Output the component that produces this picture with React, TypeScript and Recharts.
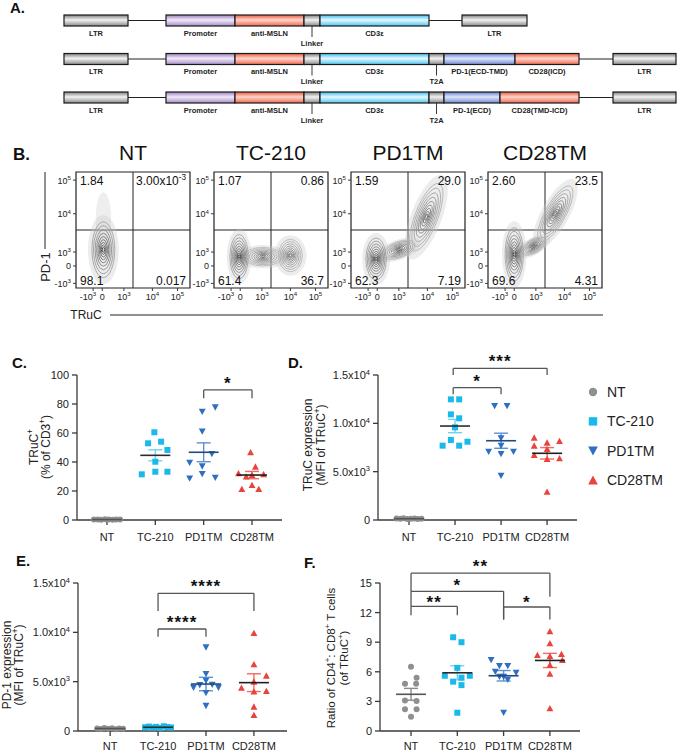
import React from 'react';
import {
  BarChart,
  Bar,
  XAxis,
  YAxis,
  ScatterChart,
  Scatter,
  ErrorBar,
  ReferenceLine,
  ReferenceDot,
  ReferenceArea,
} from 'recharts';

const FONT = '"Liberation Sans", Arial, Helvetica, sans-serif';
const INK = '#222';
const AXIS = '#3a3a3a';
const BRK = '#555';

// ---------- A. vector maps (segment lengths along the construct) ----------
const SEG_KEYS = ['lead', 'ltrL', 'gapL', 'promoter', 'anti', 'linker', 'cd3e', 't2a', 'pd1', 'cd28', 'gapR', 'ltrR'];
const mapNames = ['TC-210', 'PD1TM', 'CD28TM'];
const mapTC210 = [64, 64, 38, 69, 69, 16, 109, 0, 0, 0, 33, 65];
const mapPD1TM = [64, 64, 38, 69, 69, 16, 109, 15, 71, 64, 34, 63];
const mapCD28TM = [64, 64, 38, 69, 69, 16, 109, 15, 56, 79, 34, 63];
const baseLabels = { ltrL: 'LTR', promoter: 'Promoter', anti: 'anti-MSLN', linker: 'Linker', cd3e: 'CD3ε', ltrR: 'LTR' };
const mapLabels = [
  baseLabels,
  { ...baseLabels, t2a: 'T2A', pd1: 'PD-1(ECD-TMD)', cd28: 'CD28(ICD)' },
  { ...baseLabels, t2a: 'T2A', pd1: 'PD-1(ECD)', cd28: 'CD28(TMD-ICD)' },
];

// ---------- B. flow plots ----------
const flowTitles = ['NT', 'TC-210', 'PD1TM', 'CD28TM'];
const flowQuadrants = [
  ['1.84', '3.00x10^{-3}', '98.1', '0.017'],
  ['1.07', '0.86', '61.4', '36.7'],
  ['1.59', '29.0', '62.3', '7.19'],
  ['2.60', '23.5', '69.6', '4.31'],
];
const flowXTicks = [15, 23, 42, 67, 89];
const flowYTicks = [4, 19, 31, 64, 93];
const flowTickLabels = ['-10^{3}', '0', '10^{3}', '10^{4}', '10^{5}'];
const flowGate = { x: 50, y: 50 };
// populations: centre and spread in axis units, tilt in degrees
const popsNT = [
  { x: 24, y: 60, rx: 5, ry: 18, rot: 0, tone: 0 },
  { x: 24, y: 33, rx: 10, ry: 24, rot: 0, tone: 2 },
];
const popsTC210 = [
  { x: 43, y: 27, rx: 17, ry: 8, rot: 0, tone: 1 },
  { x: 22, y: 27, rx: 8, ry: 19, rot: 0, tone: 2 },
  { x: 67, y: 28, rx: 10.5, ry: 14, rot: 0, tone: 1 },
];
const popsPD1TM = [
  { x: 66, y: 61, rx: 10, ry: 31, rot: 21, tone: 1 },
  { x: 42, y: 33, rx: 15, ry: 7, rot: -20, tone: 1 },
  { x: 22, y: 25, rx: 9, ry: 18, rot: 0, tone: 2 },
];
const popsCD28TM = [
  { x: 59, y: 64, rx: 9, ry: 27, rot: 29, tone: 1 },
  { x: 40, y: 36, rx: 12, ry: 6, rot: -30, tone: 1 },
  { x: 23, y: 29, rx: 8, ry: 23, rot: 0, tone: 2 },
];
const flowPops = [popsNT, popsTC210, popsPD1TM, popsCD28TM];

// ---------- C-F. dot plots ([jitter, value]) ----------
const CATS = ['NT', 'TC-210', 'PD1TM', 'CD28TM'];
const COLORS = ['#8f8f8f', '#19b9ec', '#2d6fc0', '#e9433d'];
const ERR_COLORS = ['#8a8a8a', '#72d0f1', '#5f90d2', '#ef6b64'];
const MEAN_COLORS = ['#555', '#2b2b2b', '#24497e', '#1f1f1f'];
const MARKERS = ['circle', 'square', 'down', 'up'];

const cNT = [[-0.27, 0.3], [-0.19, 0.4], [-0.12, 0.2], [-0.04, 0.5], [0.04, 0.3], [0.12, 0.2], [0.19, 0.4], [0.27, 0.3]];
const cTC210 = [[-0.02, 60.5], [-0.15, 52.9], [0.12, 54], [0.25, 48.3], [0, 40.2], [-0.28, 31.5], [0, 33.3], [0.25, 33.3]];
const cPD1TM = [[-0.03, 74.7], [0.24, 77.7], [-0.03, 61], [0.17, 45.5], [-0.29, 39.5], [-0.03, 37], [-0.29, 28.7], [-0.03, 31.7], [0.24, 29.2]];
const cCD28TM = [[-0.03, 46.7], [0.07, 36.8], [-0.28, 32.2], [0.24, 31.5], [0, 31], [-0.12, 30], [0, 24.1], [-0.21, 21.4], [0.14, 21.4]];
const cMean = [0.3, 44.6, 46.7, 31.0];
const cSem = [0.1, 3.8, 6.5, 2.5];
const cBrackets = [{ a: 3, b: 4, top: 89.7, la: 84, lb: 84, label: '*', ly: 96.5 }];

const dNT = [[-0.27, 150], [-0.19, 120], [-0.12, 180], [-0.04, 100], [0.04, 140], [0.12, 160], [0.19, 110], [0.27, 130]];
const dTC210 = [[-0.09, 12480], [0.09, 12480], [-0.09, 10930], [0.09, 10520], [0, 9590], [-0.09, 8280], [-0.27, 7690], [0.09, 7690], [0.27, 8100]];
const dPD1TM = [[-0.14, 11790], [0.13, 11790], [0, 8450], [0, 7690], [-0.27, 7070], [0, 6830], [0.27, 7070], [0, 4590]];
const dCD28TM = [[-0.28, 8520], [0, 8000], [0.27, 8170], [-0.28, 7690], [0, 7340], [-0.28, 6720], [0, 6310], [0.27, 6380], [0, 2930]];
const dMean = [130, 9720, 8200, 6900];
const dSem = [15, 690, 780, 590];
const dBrackets = [
  { a: 1.96, b: 3, top: 13690, la: 13000, lb: 13000, label: '*', ly: 14655 },
  { a: 1.96, b: 4, top: 15690, la: 15000, lb: 15000, label: '***', ly: 16724 },
];

const eNT = [[-0.27, 250], [-0.19, 200], [-0.12, 300], [-0.04, 220], [0.04, 280], [0.12, 180], [0.19, 260], [0.27, 230]];
const eTC210 = [[-0.27, 380], [-0.19, 450], [-0.12, 350], [-0.04, 420], [0.04, 300], [0.12, 480], [0.19, 400], [0.27, 360]];
const ePD1TM = [[0, 8480], [0, 5780], [-0.26, 4400], [0, 5100], [0.26, 4400], [-0.13, 4650], [0.13, 4700], [0, 3850], [0, 2550]];
const eCD28TM = [[0, 9930], [0, 6760], [0.26, 5610], [-0.26, 4390], [0, 4000], [0.26, 4050], [0, 5000], [0, 2470], [0, 1620]];
const eMean = [250, 380, 4760, 4900];
const eSem = [30, 30, 680, 900];
const eBrackets = [
  { a: 2, b: 3, top: 10338, la: 9560, lb: 9560, label: '****', ly: 11318 },
  { a: 2, b: 4, top: 13953, la: 12162, lb: 12162, label: '****', ly: 15034 },
];

const fNT = [[0, 6.5], [-0.13, 4.8], [0.12, 5.4], [0.11, 4.8], [-0.13, 3.1], [0.12, 3.05], [-0.13, 2.2], [0.12, 2.2], [0, 1.45]];
const fTC210 = [[-0.09, 9.5], [0.09, 9.0], [0, 6.4], [-0.27, 5.6], [0.09, 5.4], [-0.09, 5.0], [0.09, 4.65], [0.27, 5.6], [0, 1.85]];
const fPD1TM = [[-0.27, 7.2], [-0.09, 6.6], [0.09, 6.6], [-0.18, 6.0], [0, 5.5], [0.27, 5.9], [0.09, 5.2], [-0.09, 5.5], [0, 1.85]];
const fCD28TM = [[0, 10.1], [0, 8.9], [-0.27, 7.7], [0.25, 7.8], [0, 7.6], [0.27, 7.2], [0, 6.7], [0, 5.8], [0, 2.3]];
const fMean = [3.72, 5.9, 5.6, 7.15];
const fSem = [0.6, 0.71, 0.53, 0.72];
const fBrackets = [
  { a: 1, b: 2, top: 12.64, la: 11.73, lb: 11.73, label: '**', ly: 13.4 },
  { a: 1, b: 3, top: 14.16, la: 12.64, lb: 11.3, label: '*', ly: 15.1 },
  { a: 1, b: 4, top: 16.0, la: 14.16, lb: 13.6, label: '**', ly: 17.05 },
  { a: 3, b: 4, top: 12.57, la: 11.3, lb: 11.3, label: '*', ly: 13.4 },
];

// ---------- helpers ----------
// "10^{3}" -> 10 with superscript 3
function richText(s: string, size: number) {
  const parts = s.split(/\^\{([^}]*)\}/);
  const out: React.ReactNode[] = [];
  let raised = false;
  parts.forEach((t, i) => {
    if (!t) return;
    if (i % 2 === 1) {
      out.push(<tspan key={i} dy={-size * 0.4} fontSize={size * 0.68}>{t}</tspan>);
      raised = true;
    } else {
      out.push(<tspan key={i} dy={raised ? size * 0.4 : 0} fontSize={size}>{t}</tspan>);
      raised = false;
    }
  });
  return out;
}

function markerEl(kind: string, color: string, cx: number, cy: number, s: number, key?: string) {
  if (kind === 'circle') return <circle key={key} cx={cx} cy={cy} r={s} fill={color} />;
  if (kind === 'square') return <rect key={key} x={cx - s} y={cy - s} width={2 * s} height={2 * s} fill={color} />;
  if (kind === 'down')
    return <polygon key={key} points={`${cx - s * 1.15},${cy - s} ${cx + s * 1.15},${cy - s} ${cx},${cy + s * 1.1}`} fill={color} />;
  return <polygon key={key} points={`${cx - s * 1.15},${cy + s} ${cx + s * 1.15},${cy + s} ${cx},${cy - s * 1.1}`} fill={color} />;
}

const markerShape = (kind: string, color: string) => (p: any) => {
  if (p.cx == null) return <g />;
  return markerEl(kind, color, p.cx, p.cy, 3);
};

const meanShape = (color: string) => (p: any) => {
  if (p.cx == null) return <g />;
  return <line x1={p.cx - 15} x2={p.cx + 15} y1={p.cy} y2={p.cy} stroke={color} strokeWidth={1.6} />;
};

const SciTick = (p: any) => {
  const { x, y, payload } = p;
  const v = payload.value;
  if (!v) {
    return (
      <text x={x} y={y + 4} textAnchor="end" fontSize={11} fill={INK} fontFamily={FONT}>0</text>
    );
  }
  const e = Math.floor(Math.log10(v));
  const m = (v / Math.pow(10, e)).toFixed(1);
  return (
    <text x={x} y={y + 4} textAnchor="end" fill={INK} fontFamily={FONT}>
      {richText(`${m}x10^{${e}}`, 11)}
    </text>
  );
};

// ---------- A. segment shapes ----------
const GRAY = ['#7e7e7e', '#f2f2f2', '#8a8a8a'];
const SALMON = ['#ec5a40', '#fcd5ca', '#ef6a52'];
const SEG_FILL: Record<string, string[]> = {
  ltrL: GRAY,
  ltrR: GRAY,
  linker: GRAY,
  t2a: GRAY,
  promoter: ['#9a7ec0', '#f1eaf8', '#a68ec9'],
  anti: SALMON,
  cd28: SALMON,
  cd3e: ['#3bbdee', '#e6f8fe', '#4fc5f0'],
  pd1: ['#6780d0', '#dfe5f8', '#7189d6'],
};
const CALLOUT = ['linker', 't2a'];

const segShape = (key: string) => (p: any) => {
  const { x, y, width, height, payload } = p;
  if (!(width > 0.5) || key === 'lead') return <g />;
  if (key === 'gapL' || key === 'gapR') {
    return <line x1={x} x2={x + width} y1={y + height / 2} y2={y + height / 2} stroke="#222" strokeWidth={1} />;
  }
  const id = `grad-${key}-${payload.name}`;
  const [c0, c1, c2] = SEG_FILL[key];
  const mid = x + width / 2;
  const bottom = y + height;
  const text = payload.labels[key];
  const callout = CALLOUT.includes(key);
  return (
    <g>
      <defs>
        <linearGradient id={id} x1="0" y1="0" x2="0" y2="1">
          <stop offset="0" stopColor={c0} />
          <stop offset="0.45" stopColor={c1} />
          <stop offset="1" stopColor={c2} />
        </linearGradient>
      </defs>
      <rect x={x} y={y} width={width} height={height} fill={`url(#${id})`} stroke="#1a1a1a" strokeWidth={1.2} />
      {text && callout && <line x1={mid} x2={mid} y1={bottom} y2={bottom + 11} stroke="#222" strokeWidth={0.9} />}
      {text && (
        <text x={mid} y={bottom + (callout ? 19.5 : 9.5)} textAnchor="middle" fontSize={7.5} fontWeight="bold" fill="#222" fontFamily={FONT}>
          {text}
        </text>
      )}
    </g>
  );
};

function VectorMaps() {
  const rows = [mapTC210, mapPD1TM, mapCD28TM].map((vals, i) => {
    const row: any = { name: mapNames[i], labels: mapLabels[i] };
    SEG_KEYS.forEach((k, j) => (row[k] = vals[j]));
    return row;
  });
  return (
    <div style={{ position: 'absolute', left: 0, top: 0 }}>
      <BarChart width={677} height={130} data={rows} layout="vertical" margin={{ top: 1, right: 0, bottom: 13.5, left: 0 }}>
        <XAxis type="number" domain={[0, 677]} hide />
        <YAxis type="category" dataKey="name" hide />
        {SEG_KEYS.map((k) => (
          <Bar key={k} dataKey={k} stackId="a" barSize={11} shape={segShape(k)} isAnimationActive={false} />
        ))}
      </BarChart>
    </div>
  );
}

// ---------- B. flow plots ----------
const FLOW_LEFT = [76, 214, 351, 488];
const LEVELS = [1, 0.86, 0.72, 0.59, 0.47, 0.36, 0.26, 0.17, 0.09];

const ContourShape = (p: any) => {
  const { cx, cy, payload } = p;
  if (cx == null || !payload) return <g />;
  const rx = payload.rx * 1.14;
  const ry = payload.ry * 1.16;
  return (
    <g transform={`translate(${cx},${cy}) rotate(${payload.rot})`}>
      <ellipse rx={rx * 1.35} ry={ry * 1.25} fill="#c8c8c8" fillOpacity={payload.tone ? 0.35 : 0.3} />
      {payload.tone > 0 &&
        LEVELS.map((k, i) => {
          const g = payload.tone === 2 ? 150 - i * 13 : 175 - i * 11;
          return <ellipse key={i} rx={rx * k} ry={ry * k} fill="none" stroke={`rgb(${g},${g},${g})`} strokeWidth={0.75} />;
        })}
    </g>
  );
};

const FlowTick = (p: any) => {
  const { x, y, payload, axis } = p;
  const ticks = axis === 'x' ? flowXTicks : flowYTicks;
  const i = ticks.indexOf(payload.value);
  const lab = flowTickLabels[i] ?? '';
  if (axis === 'x') {
    // the negative label sits left of its tick so it clears the "0"
    return (
      <text x={i === 0 ? x + 3 : x} y={y + 8} textAnchor={i === 0 ? 'end' : 'middle'} fill={INK} fontFamily={FONT}>
        {richText(lab, 9)}
      </text>
    );
  }
  return (
    <text x={x} y={y + 3.5} textAnchor="end" fill={INK} fontFamily={FONT}>
      {richText(lab, 9)}
    </text>
  );
};

const QUAD_POS = [
  { x: 0, y: 100, dx: 4, dy: 13, anchor: 'start' },
  { x: 100, y: 100, dx: -4, dy: 13, anchor: 'end' },
  { x: 0, y: 0, dx: 4, dy: -3, anchor: 'start' },
  { x: 100, y: 0, dx: -4, dy: -3, anchor: 'end' },
];

function FlowPlot({ idx }: { idx: number }) {
  return (
    <div style={{ position: 'absolute', left: FLOW_LEFT[idx] - 34, top: 140 }}>
      <ScatterChart width={154} height={168} margin={{ top: 32, right: 6, bottom: 0, left: 0 }}>
        <XAxis type="number" dataKey="x" domain={[0, 100]} ticks={flowXTicks} interval={0} height={20} axisLine={false} tickSize={3} tickMargin={1} stroke={AXIS} tick={<FlowTick axis="x" />} />
        <YAxis type="number" dataKey="y" domain={[0, 100]} ticks={flowYTicks} interval={0} width={34} axisLine={false} tickSize={3} tickMargin={2} stroke={AXIS} tick={<FlowTick axis="y" />} />
        <Scatter data={flowPops[idx]} shape={ContourShape} isAnimationActive={false} />
        <ReferenceArea x1={0} x2={100} y1={0} y2={100} fill="none" stroke="#222" strokeWidth={1.2} ifOverflow="visible" />
        <ReferenceLine x={flowGate.x} stroke="#222" strokeWidth={1} />
        <ReferenceLine y={flowGate.y} stroke="#222" strokeWidth={1} />
        {flowQuadrants[idx].map((q, i) => {
          const pos = QUAD_POS[i];
          return (
            <ReferenceDot
              key={i}
              x={pos.x}
              y={pos.y}
              ifOverflow="visible"
              shape={(sp: any) => (
                <text x={sp.cx + pos.dx} y={sp.cy + pos.dy} textAnchor={pos.anchor as any} fill="#111" fontFamily={FONT}>
                  {richText(q, 12)}
                </text>
              )}
            />
          );
        })}
      </ScatterChart>
    </div>
  );
}

// ---------- C-F. dot plots ----------
interface Bracket { a: number; b: number; top: number; la: number; lb: number; label: string; ly: number }
interface PanelProps {
  left: number; top: number; width: number; height: number;
  yAxisW: number; mTop: number; mRight: number; xAxisH: number; tickGap: number;
  xDomain: [number, number]; yDomain: [number, number]; yTicks: number[]; sci?: boolean;
  groups: number[][][]; means: number[]; sems: number[]; brackets: Bracket[];
}

function DotPanel(p: PanelProps) {
  const starShape = (label: string) => (sp: any) => (
    <text x={sp.cx} y={sp.cy + 9} textAnchor="middle" fontSize={17} fontWeight="bold" letterSpacing={1} fill="#111" fontFamily={FONT}>
      {label}
    </text>
  );
  return (
    <div style={{ position: 'absolute', left: p.left, top: p.top }}>
      <ScatterChart width={p.width} height={p.height} margin={{ top: p.mTop, right: p.mRight, bottom: 0, left: 0 }}>
        <XAxis
          type="number"
          dataKey="x"
          domain={p.xDomain}
          ticks={[1, 2, 3, 4]}
          interval={0}
          tickFormatter={(v: number) => CATS[v - 1] ?? ''}
          height={p.xAxisH}
          stroke={AXIS}
          strokeWidth={1.3}
          tickSize={5}
          tickMargin={p.tickGap}
          tick={{ fontSize: 11, fill: INK, fontFamily: FONT }}
        />
        <YAxis
          type="number"
          dataKey="y"
          domain={p.yDomain}
          ticks={p.yTicks}
          interval={0}
          width={p.yAxisW}
          stroke={AXIS}
          strokeWidth={1.3}
          tickSize={5}
          tickMargin={3}
          tick={p.sci ? <SciTick /> : { fontSize: 11, fill: INK, fontFamily: FONT }}
        />
        {p.groups.map((g, i) => (
          <Scatter
            key={CATS[i]}
            name={CATS[i]}
            data={g.map(([dx, v]) => ({ x: i + 1 + dx, y: v }))}
            shape={markerShape(MARKERS[i], COLORS[i])}
            isAnimationActive={false}
          />
        ))}
        {p.means.map((m, i) => (
          <Scatter key={'m' + i} data={[{ x: i + 1, y: m, err: p.sems[i] }]} shape={meanShape(MEAN_COLORS[i])} isAnimationActive={false}>
            <ErrorBar dataKey="err" direction="y" width={7} stroke={ERR_COLORS[i]} strokeWidth={1.4} />
          </Scatter>
        ))}
        {p.brackets.map((b, j) => (
          <ReferenceLine key={'h' + j} segment={[{ x: b.a, y: b.top }, { x: b.b, y: b.top }]} stroke={BRK} strokeWidth={1.3} ifOverflow="visible" />
        ))}
        {p.brackets.map((b, j) => (
          <ReferenceLine key={'l' + j} segment={[{ x: b.a, y: b.top }, { x: b.a, y: b.la }]} stroke={BRK} strokeWidth={1.3} ifOverflow="visible" />
        ))}
        {p.brackets.map((b, j) => (
          <ReferenceLine key={'r' + j} segment={[{ x: b.b, y: b.top }, { x: b.b, y: b.lb }]} stroke={BRK} strokeWidth={1.3} ifOverflow="visible" />
        ))}
        {p.brackets.map((b, j) => (
          <ReferenceDot key={'s' + j} x={(b.a + b.b) / 2} y={b.ly} ifOverflow="visible" shape={starShape(b.label)} />
        ))}
      </ScatterChart>
    </div>
  );
}

function RotLabel({ x, y, text, size = 12 }: { x: number; y: number; text: string; size?: number }) {
  return (
    <text transform={`translate(${x},${y}) rotate(-90)`} textAnchor="middle" fill={INK} fontFamily={FONT}>
      {richText(text, size)}
    </text>
  );
}

export default function App() {
  return (
    <div style={{ position: 'absolute', left: 0, top: 0, width: 677, height: 752, background: '#fff', fontFamily: FONT }}>
      <VectorMaps />
      {flowTitles.map((_, i) => (
        <FlowPlot key={i} idx={i} />
      ))}
      <DotPanel
        left={0} top={345} width={300} height={210} yAxisW={77} mTop={30} mRight={18} xAxisH={35} tickGap={8}
        xDomain={[0.38, 4.62]} yDomain={[0, 100]} yTicks={[0, 20, 40, 60, 80, 100]}
        groups={[cNT, cTC210, cPD1TM, cCD28TM]} means={cMean} sems={cSem} brackets={cBrackets}
      />
      <DotPanel
        left={300} top={325} width={377} height={230} yAxisW={78} mTop={50} mRight={100} xAxisH={35} tickGap={8}
        xDomain={[0.326, 4.65]} yDomain={[0, 15000]} yTicks={[0, 5000, 10000, 15000]} sci
        groups={[dNT, dTC210, dPD1TM, dCD28TM]} means={dMean} sems={dSem} brackets={dBrackets}
      />
      <DotPanel
        left={0} top={540} width={300} height={212} yAxisW={78} mTop={43} mRight={13} xAxisH={21} tickGap={6}
        xDomain={[0.33, 4.69]} yDomain={[0, 15000]} yTicks={[0, 5000, 10000, 15000]} sci
        groups={[eNT, eTC210, ePD1TM, eCD28TM]} means={eMean} sems={eSem} brackets={eBrackets}
      />
      <DotPanel
        left={300} top={540} width={377} height={212} yAxisW={80} mTop={43} mRight={97} xAxisH={21} tickGap={6}
        xDomain={[0.33, 4.65]} yDomain={[0, 15]} yTicks={[0, 3, 6, 9, 12, 15]}
        groups={[fNT, fTC210, fPD1TM, fCD28TM]} means={fMean} sems={fSem} brackets={fBrackets}
      />
      <svg width={677} height={752} style={{ position: 'absolute', left: 0, top: 0, pointerEvents: 'none' }} fontFamily={FONT}>
        <text x={10} y={13} fontSize={15} fontWeight="bold" fill="#111">A.</text>
        <text x={13} y={160} fontSize={17} fontWeight="bold" fill="#111">B.</text>
        <text x={12} y={368} fontSize={15} fontWeight="bold" fill="#111">C.</text>
        <text x={288} y={368} fontSize={15} fontWeight="bold" fill="#111">D.</text>
        <text x={16} y={566} fontSize={15} fontWeight="bold" fill="#111">E.</text>
        <text x={304} y={568} fontSize={15} fontWeight="bold" fill="#111">F.</text>
        {flowTitles.map((t, i) => (
          <text key={t} x={FLOW_LEFT[i] + 57} y={160} fontSize={21} textAnchor="middle" fill="#111">{t}</text>
        ))}
        <line x1={45} x2={45} y1={172} y2={249} stroke="#222" strokeWidth={1} />
        <RotLabel x={50} y={267} text="PD-1" size={13} />
        <text x={86} y={319} fontSize={12} textAnchor="middle" fill={INK}>TRuC</text>
        <line x1={110} x2={603} y1={315} y2={315} stroke="#222" strokeWidth={1} />
        <RotLabel x={37.5} y={447} text="TRuC^{+}" />
        <RotLabel x={49.5} y={447} text="(% of CD3^{+})" />
        <RotLabel x={311.5} y={445} text="TRuC expression" />
        <RotLabel x={324.5} y={445} text="(MFI of TRuC^{+})" />
        <RotLabel x={10.5} y={665} text="PD-1 expression" />
        <RotLabel x={22.5} y={665} text="(MFI of TRuC^{+})" />
        <RotLabel x={335} y={658} text="Ratio of CD4^{+}: CD8^{+} T cells" size={11.5} />
        <RotLabel x={348} y={658} text="(of TRuC^{+})" size={11.5} />
        {CATS.map((c, i) => {
          const cy = 392 + i * 29.4;
          return (
            <g key={c}>
              {markerEl(MARKERS[i], COLORS[i], 593, cy, 4.2)}
              <text x={607} y={cy + 5} fontSize={14} fill={INK}>{c}</text>
            </g>
          );
        })}
      </svg>
    </div>
  );
}
